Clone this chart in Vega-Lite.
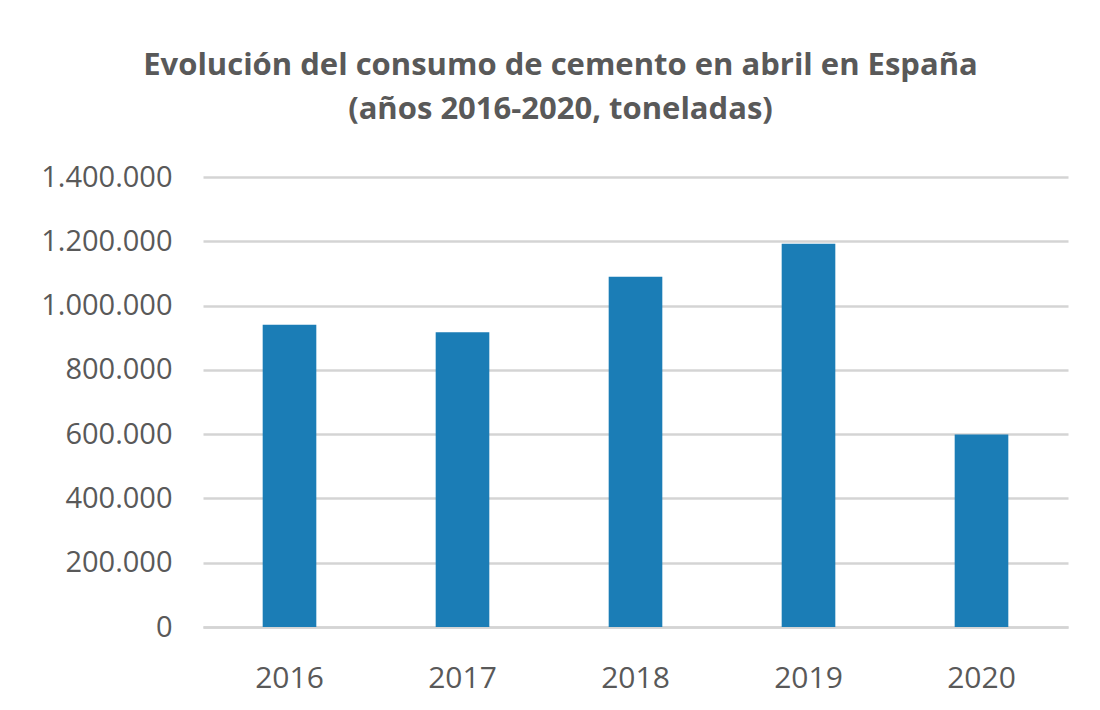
{
  "$schema": "https://vega.github.io/schema/vega-lite/v6.json",
  "width": 865,
  "height": 450,
  "autosize": {"type": "none"},
  "padding": {"left": 203, "top": 177, "right": 32, "bottom": 83},
  "background": "#ffffff",
  "config": {
    "view": {"stroke": null},
    "locale": {"number": {"decimal": ",", "thousands": ".", "grouping": [3], "currency": ["", " €"]}},
    "font": "Open Sans"
  },
  "title": {
    "text": ["Evolución del consumo de cemento en abril  en España", "(años 2016-2020, toneladas)"],
    "fontSize": 31,
    "fontWeight": "bold",
    "font": "Open Sans",
    "color": "#595959",
    "lineHeight": 44,
    "anchor": "middle",
    "dx": -75,
    "offset": 37
  },
  "data": {
    "values": [
      {"year": "2016", "toneladas": 940000},
      {"year": "2017", "toneladas": 917000},
      {"year": "2018", "toneladas": 1090000},
      {"year": "2019", "toneladas": 1192000},
      {"year": "2020", "toneladas": 599000}
    ]
  },
  "mark": {"type": "bar", "color": "#1b7db6"},
  "encoding": {
    "x": {
      "field": "year",
      "type": "nominal",
      "scale": {"paddingInner": 0.69, "paddingOuter": 0.345},
      "axis": {
        "title": null,
        "labelAngle": 0,
        "labelFontSize": 30,
        "labelColor": "#595959",
        "labelPadding": 36,
        "ticks": false,
        "domainColor": "#d4d4d4",
        "domainWidth": 2.5
      }
    },
    "y": {
      "field": "toneladas",
      "type": "quantitative",
      "scale": {"domain": [0, 1400000]},
      "axis": {
        "title": null,
        "values": [0, 200000, 400000, 600000, 800000, 1000000, 1200000, 1400000],
        "format": ",d",
        "labelFontSize": 29,
        "labelColor": "#595959",
        "labelPadding": 31,
        "ticks": false,
        "domain": false,
        "gridColor": "#d4d4d4",
        "gridWidth": 2.5
      }
    }
  }
}
